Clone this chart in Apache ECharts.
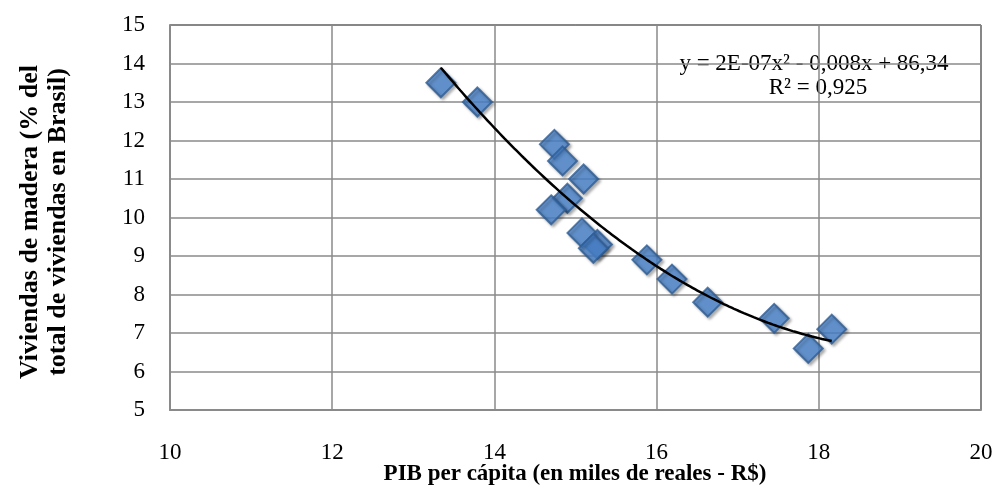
<!DOCTYPE html>
<html>
<head>
<meta charset="utf-8">
<script src="https://cdn.jsdelivr.net/npm/echarts@6/dist/echarts.min.js"></script>
<style>html,body{margin:0;padding:0;background:#fff}#c{width:997px;height:488px}</style>
</head>
<body>
<div id="c"></div>
<script>
// PIB per cápita (miles de R$)
var pibValues = [13.34, 13.79, 14.74, 14.84, 15.10, 14.90, 14.70, 15.08, 15.27, 15.22, 15.88, 16.19, 16.63, 17.45, 17.87, 18.16];
// Viviendas de madera (% del total)
var maderaValues = [13.5, 13.0, 11.9, 11.47, 11.0, 10.5, 10.2, 9.6, 9.3, 9.2, 8.9, 8.4, 7.8, 7.38, 6.6, 7.1];
var xTicks = [10, 12, 14, 16, 18, 20];
var yTicks = [5, 6, 7, 8, 9, 10, 11, 12, 13, 14, 15];
var equationText = 'y = 2E-07x² - 0,008x + 86,34';
var r2Text = 'R² = 0,925';

// least-squares quadratic fit (trendline, as in the original)
function polyFit2(xs, ys) {
  var n = xs.length, s = [0,0,0,0,0], t = [0,0,0];
  for (var i = 0; i < n; i++) {
    var x = xs[i], y = ys[i], p = 1;
    for (var k = 0; k < 5; k++) { s[k] += p; if (k < 3) t[k] += p * y; p *= x; }
  }
  var A = [[s[0], s[1], s[2], t[0]], [s[1], s[2], s[3], t[1]], [s[2], s[3], s[4], t[2]]];
  for (var c = 0; c < 3; c++) {
    for (var r = c + 1; r < 3; r++) {
      var f = A[r][c] / A[c][c];
      for (var j = c; j < 4; j++) A[r][j] -= f * A[c][j];
    }
  }
  var b = [0,0,0];
  for (var r2 = 2; r2 >= 0; r2--) {
    var v = A[r2][3];
    for (var j2 = r2 + 1; j2 < 3; j2++) v -= A[r2][j2] * b[j2];
    b[r2] = v / A[r2][r2];
  }
  return b;
}
var coef = polyFit2(pibValues, maderaValues);
var xmin = Math.min.apply(null, pibValues), xmax = Math.max.apply(null, pibValues);
var trend = [];
for (var i = 0; i <= 80; i++) {
  var x = xmin + (xmax - xmin) * i / 80;
  trend.push([x, coef[0] + coef[1] * x + coef[2] * x * x]);
}
var points = pibValues.map(function (v, i) { return [v, maderaValues[i]]; });

var chart = echarts.init(document.getElementById('c'));
var font = '"Liberation Serif", "Times New Roman", serif';
chart.setOption({
  animation: false,
  backgroundColor: '#fff',
  grid: { left: 170, right: 16, top: 25, bottom: 78, show: true, borderColor: '#000', borderWidth: 1, backgroundColor: 'transparent' },
  xAxis: {
    type: 'value', min: xTicks[0], max: xTicks[xTicks.length - 1], interval: 2,
    axisLine: { show: true, onZero: false, lineStyle: { color: '#8a8a8a', width: 2 } },
    axisTick: { show: false },
    splitLine: { show: true, lineStyle: { color: '#8a8a8a', width: 1.5 } },
    axisLabel: { color: '#000', fontFamily: font, fontSize: 23, margin: 31 }
  },
  yAxis: {
    type: 'value', min: yTicks[0], max: yTicks[yTicks.length - 1], interval: 1,
    axisLine: { show: true, onZero: false, lineStyle: { color: '#8a8a8a', width: 2 } },
    axisTick: { show: false },
    splitLine: { show: true, lineStyle: { color: '#8a8a8a', width: 1.5 } },
    axisLabel: { color: '#000', fontFamily: font, fontSize: 23, margin: 25 }
  },
  graphic: [
    { type: 'text', x: 575, y: 474, style: { text: 'PIB per cápita (en miles de reales - R$)', font: 'bold 23px ' + font, fill: '#000', textAlign: 'center', textVerticalAlign: 'middle' } },
    { type: 'text', x: 30, y: 222, rotation: Math.PI / 2, style: { text: 'Viviendas de madera (% del', font: 'bold 26px ' + font, fill: '#000', textAlign: 'center', textVerticalAlign: 'middle' } },
    { type: 'text', x: 58, y: 222, rotation: Math.PI / 2, style: { text: 'total de viviendas en Brasil)', font: 'bold 26px ' + font, fill: '#000', textAlign: 'center', textVerticalAlign: 'middle' } },
    { type: 'text', x: 814, y: 64, style: { text: equationText, font: '23px ' + font, fill: '#000', textAlign: 'center', textVerticalAlign: 'middle' } },
    { type: 'text', x: 818, y: 88, style: { text: r2Text, font: '23px ' + font, fill: '#000', textAlign: 'center', textVerticalAlign: 'middle' } }
  ],
  series: [
    {
      type: 'scatter', data: points, symbol: 'diamond', symbolSize: [29, 29], z: 2,
      itemStyle: { color: '#4A85CE', borderColor: '#2E5C94', borderWidth: 2, shadowBlur: 3, shadowOffsetX: 2, shadowOffsetY: 2, shadowColor: 'rgba(0,0,0,0.35)' }
    },
    {
      type: 'line', data: trend, showSymbol: false, symbol: 'none', smooth: true, z: 3,
      lineStyle: { color: '#000', width: 2.5 }
    }
  ]
});
</script>
</body>
</html>
